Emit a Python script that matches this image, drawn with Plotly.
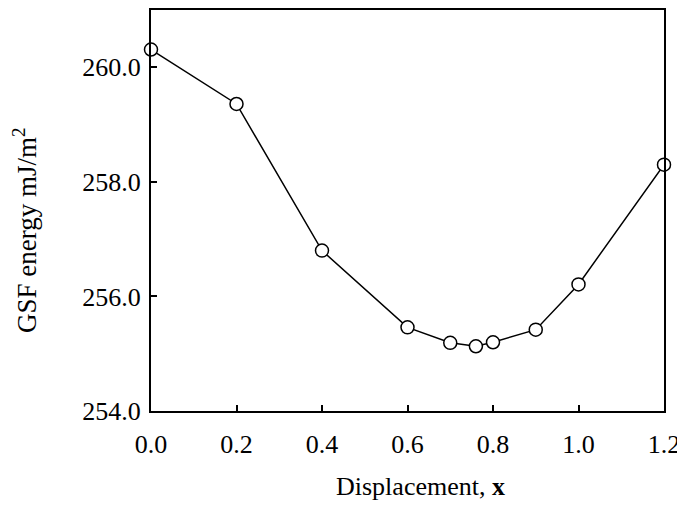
import plotly.graph_objects as go

displacement = [0.0, 0.2, 0.4, 0.6, 0.7, 0.76, 0.8, 0.9, 1.0, 1.2]
gsf_energy = [260.31, 259.36, 256.8, 255.46, 255.19, 255.13, 255.2, 255.42, 256.21, 258.30]
y_ticks = [254, 256, 258, 260]
y_ticklabels = ["254.0", "256.0", "258.0", "260.0"]
x_ticks = [0.0, 0.2, 0.4, 0.6, 0.8, 1.0, 1.2]
x_ticklabels = ["0.0", "0.2", "0.4", "0.6", "0.8", "1.0", "1.2"]
x_title = "Displacement, <b>x</b>"
y_title = "GSF energy mJ/m<sup>2</sup>"

font = "Liberation Serif, Times New Roman, serif"

fig = go.Figure()
fig.add_trace(go.Scatter(
    x=displacement, y=gsf_energy, mode="lines+markers",
    line=dict(color="black", width=1.5),
    marker=dict(symbol="circle", size=13, color="white",
                line=dict(color="black", width=1.5)),
    cliponaxis=False, showlegend=False,
))

fig.update_layout(
    width=677, height=497,
    margin=dict(l=143, r=21, t=0, b=94),
    paper_bgcolor="white", plot_bgcolor="white",
    font=dict(family=font, size=26, color="black"),
    annotations=[
        dict(text=x_title, xref="paper", yref="paper", x=0.526, y=-0.1886,
             xanchor="center", yanchor="middle", showarrow=False,
             font=dict(size=26)),
        dict(text=y_title, xref="paper", yref="paper", x=-0.2456, y=0.449,
             xanchor="center", yanchor="middle", showarrow=False,
             textangle=-90, font=dict(size=27)),
    ],
)
fig.update_xaxes(
    range=[0, 1.2], tickvals=x_ticks, ticktext=x_ticklabels,
    ticks="inside", ticklen=6, tickwidth=1.5, tickcolor="black",
    showline=True, linecolor="black", linewidth=2, mirror=True,
    showgrid=False, zeroline=False, ticklabelstandoff=9,
)
fig.update_yaxes(
    range=[254, 261], tickvals=y_ticks, ticktext=y_ticklabels,
    ticks="inside", ticklen=6, tickwidth=1.5, tickcolor="black",
    showline=True, linecolor="black", linewidth=2, mirror=True,
    showgrid=False, zeroline=False, ticklabelstandoff=3,
)

fig.write_html("out.html")
